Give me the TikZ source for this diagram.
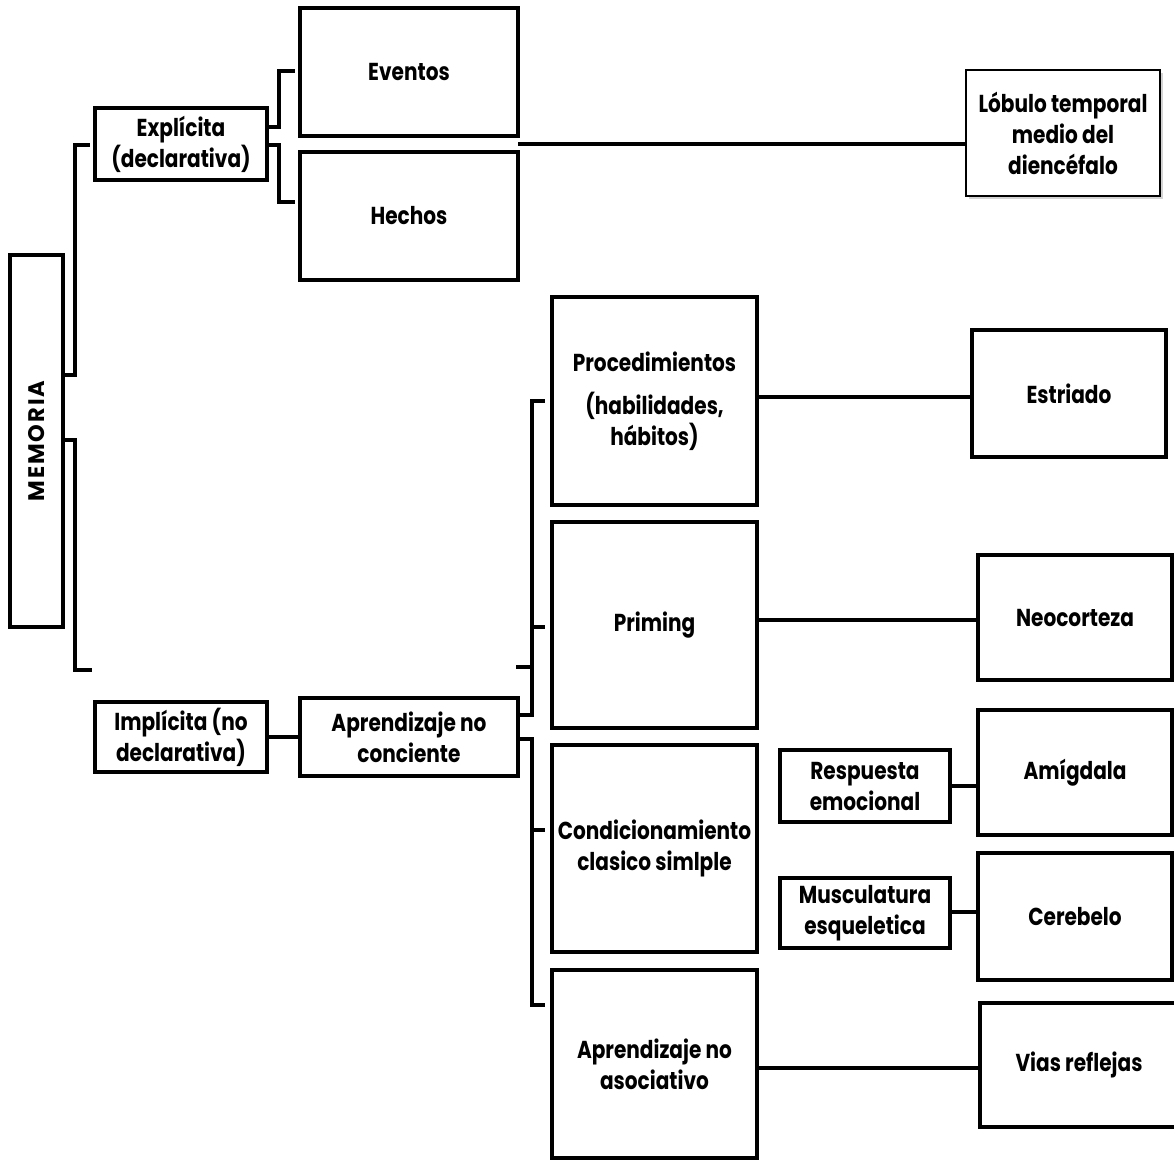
\documentclass[tikz,border=0pt]{standalone}
\usepackage{fontspec}
\setmainfont{Poppins}[FakeStretch=0.82]
\newfontfamily\memfont{Poppins}
\usetikzlibrary{shadows}
\tikzset{
  box/.style={draw=black, line width=4pt, fill=white, inner sep=0pt, align=center,
    font=\bfseries\fontsize{24.5}{31}\selectfont, line join=miter},
  thinbox/.style={box, line width=2pt, drop shadow={opacity=0.35, shadow xshift=3pt, shadow yshift=-3pt}},
  conn/.style={line width=4pt, line join=miter, line cap=rect}
}
\begin{document}
\begin{tikzpicture}[x=1pt,y=-1pt]
\useasboundingbox (0,0) rectangle (1174,1160);
% boxes
\node[box, line width=3.5pt, minimum width=53, minimum height=372] (mem) at (36.5,441) {\rotatebox{90}{\memfont\bfseries\fontsize{22.5}{22.5}\selectfont M\kern2pt E\kern2pt M\kern2pt O\kern2pt R\kern2pt I\kern2pt A}};
\node[box, minimum width=172, minimum height=72] (expl) at (181,144) {Explícita\\(declarativa)};
\node[box, minimum width=218, minimum height=128] (event) at (409,72) {Eventos};
\node[box, minimum width=218, minimum height=128] (hech) at (409,216) {Hechos};
\node[thinbox, minimum width=194, minimum height=126] (lob) at (1063,133) {Lóbulo temporal\\medio del\\diencéfalo};
\node[box, minimum width=205, minimum height=208] (proc) at (654.5,401) {Procedimientos\\[12pt](habilidades,\\hábitos)};
\node[box, minimum width=205, minimum height=206] (prim) at (654.5,625) {Priming};
\node[box, minimum width=205, minimum height=207] (cond) at (654.5,848.5) {Condicionamiento\\clasico simlple};
\node[box, minimum width=205, minimum height=188] (noas) at (654.5,1064) {Aprendizaje no\\asociativo};
\node[box, minimum width=194, minimum height=127] (estr) at (1069,393.5) {Estriado};
\node[box, minimum width=194, minimum height=125] (neo) at (1075,617.5) {Neocorteza};
\node[box, minimum width=194, minimum height=125] (amig) at (1075,772.5) {Amígdala};
\node[box, minimum width=194, minimum height=127] (cereb) at (1075,916.5) {Cerebelo};
\node[box, minimum width=198, minimum height=124] (vias) at (1079,1065) {Vias reflejas};
\node[box, minimum width=170, minimum height=72] (resp) at (865,786) {Respuesta\\emocional};
\node[box, minimum width=170, minimum height=70] (musc) at (865,913) {Musculatura\\esqueletica};
\node[box, minimum width=172, minimum height=70] (impl) at (181,737) {Implícita (no\\declarativa)};
\node[box, minimum width=218, minimum height=78] (apnc) at (409,737) {Aprendizaje no\\conciente};
% free ends of brackets
\coordinate (m1) at (88,145);
\coordinate (m2) at (90,670);
\coordinate (e1) at (293,71);
\coordinate (e2) at (293,202);
\coordinate (a1) at (543,401);
\coordinate (a2) at (543,627);
\coordinate (a3) at (518,667);
\coordinate (a4) at (543,830);
\coordinate (a5) at (543,1005);
% connectors
\draw[conn] (mem.east |- 0,375) -| (75,145) -- (m1);
\draw[conn] (mem.east |- 0,440) -| (75,670) -- (m2);
\draw[conn] (expl.east |- 0,127) -| (279,71) -- (e1);
\draw[conn] (expl.east |- 0,145) -| (279,202) -- (e2);
\draw[conn] (hech.north east |- 0,144) -- (lob.west |- 0,144);
\draw[conn] (impl.east) -- (apnc.west);
\draw[conn] (apnc.east |- 0,715) -| (532,401) -- (a1);
\draw[conn] (532,627) -- (a2);
\draw[conn] (532,667) -- (a3);
\draw[conn] (apnc.east |- 0,739) -| (532,1005) -- (a5);
\draw[conn] (532,830) -- (a4);
\draw[conn] (proc.east |- 0,397) -- (estr.west |- 0,397);
\draw[conn] (prim.east |- 0,620) -- (neo.west |- 0,620);
\draw[conn] (resp.east |- 0,786) -- (amig.west |- 0,786);
\draw[conn] (musc.east |- 0,912) -- (cereb.west |- 0,912);
\draw[conn] (noas.east |- 0,1068) -- (vias.west |- 0,1068);
\end{tikzpicture}
\end{document}
